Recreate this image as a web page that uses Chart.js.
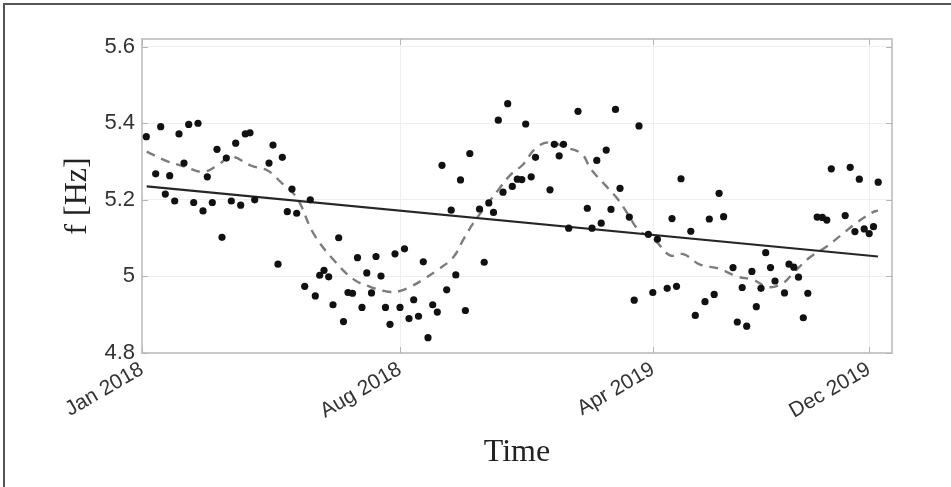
<!DOCTYPE html>
<html>
<head>
<meta charset="utf-8">
<script src="https://cdn.jsdelivr.net/npm/chart.js@4.4.1/dist/chart.umd.min.js"></script>
<style>
  body { margin: 0; background: #fff; }
  #wrap { position: relative; width: 951px; height: 487px; }
  #edge { position: absolute; left: 3px; top: 3px; width: 948px; height: 484px;
          border-top: 2px solid #555; border-left: 2px solid #555; pointer-events: none; }
</style>
</head>
<body>
<div id="wrap">
  <canvas id="freqChart" width="951" height="487"></canvas>
  <div id="edge"></div>
</div>
<script>
// time axis position of each sample (same units as the month ticks below)
const obsT = [
  4.3, 13.7, 18.7, 23.3, 27.7, 32.7, 37, 42, 46.7, 51.7,
  56, 61, 65.3, 70.3, 75, 80, 84.3, 89.3, 93.7, 98.7,
  103.3, 108, 112.7, 127, 131, 136, 140.3, 145.3, 150, 154.7,
  162.7, 168.3, 173.3, 177.7, 182, 186.7, 191, 196.7, 201.5, 206,
  210.5, 215.5, 220, 224.8, 229.5, 234, 239, 243.5, 248, 253,
  258, 262.5, 267, 271.7, 276.5, 281.3, 286, 290.7, 295.3, 300,
  304.7, 309.2, 313.8, 318.5, 323.4, 327.8, 337.5, 342.2, 346.8, 351.5,
  356.3, 361, 365.7, 370.3, 375.3, 379.8, 383.7, 389.2, 393.5, 408,
  412.3, 417.2, 421.5, 426.7, 436, 445.3, 450, 454.8, 459.2, 464.2,
  469, 473.5, 478, 487.3, 492.2, 497, 506.3, 510.8, 515.4, 525.2,
  530, 534.5, 539, 548.8, 553.3, 563, 567.3, 572.2, 577.1, 581.6,
  591, 595.3, 600.2, 604.7, 609.9, 614.3, 619, 623.7, 628.5, 633,
  642.5, 647, 651.8, 656.5, 661.3, 665.8, 675.2, 680.3, 684.8, 689.3,
  703.2, 708.2, 712.9, 717.3, 722.2, 727.2, 731.5, 736.2
];
// measured frequency in Hz
const obsF = [
  5.365, 5.268, 5.391, 5.215, 5.263, 5.197, 5.372, 5.296, 5.397, 5.193,
  5.400, 5.171, 5.260, 5.193, 5.332, 5.102, 5.309, 5.197, 5.348, 5.186,
  5.372, 5.375, 5.200, 5.296, 5.343, 5.032, 5.311, 5.169, 5.228, 5.165,
  4.974, 5.200, 4.949, 5.003, 5.016, 4.999, 4.926, 5.101, 4.882, 4.958,
  4.956, 5.049, 4.919, 5.009, 4.957, 5.052, 5.001, 4.919, 4.875, 5.059,
  4.919, 5.072, 4.890, 4.939, 4.896, 5.038, 4.840, 4.926, 4.907, 5.290,
  4.965, 5.173, 5.004, 5.252, 4.911, 5.321, 5.176, 5.037, 5.192, 5.167,
  5.408, 5.220, 5.451, 5.235, 5.254, 5.253, 5.398, 5.260, 5.311, 5.226,
  5.345, 5.315, 5.345, 5.126, 5.431, 5.178, 5.126, 5.303, 5.139, 5.330,
  5.175, 5.436, 5.230, 5.155, 4.938, 5.393, 5.110, 4.958, 5.097, 4.969,
  5.151, 4.974, 5.255, 5.118, 4.898, 4.934, 5.150, 4.953, 5.217, 5.156,
  5.023, 4.881, 4.971, 4.870, 5.013, 4.921, 4.969, 5.062, 5.023, 4.988,
  4.957, 5.032, 5.024, 4.998, 4.892, 4.956, 5.155, 5.154, 5.147, 5.281,
  5.159, 5.285, 5.117, 5.254, 5.124, 5.112, 5.130, 5.246
];

// seasonal (smoothed) curve
const smoothT = [
  4.7, 26, 42.7, 61, 76, 89, 109.3, 126, 139.3, 151, 158, 171.3, 191.3,
  211.3, 228, 246.3, 258, 270, 283, 296.3, 311.3, 321.3, 331.3,
  344.7, 356.3, 368, 381.3, 393, 406.3, 424.7, 439.7, 449, 463, 476.3,
  486.3, 496.3, 513, 528, 541.3, 558, 577.3, 594.7, 611.3, 626.3, 641.3,
  651.3, 668, 684.7, 699.7, 715, 731, 736
];
const smoothF = [
  5.326, 5.300, 5.287, 5.273, 5.291, 5.313, 5.289, 5.276, 5.245, 5.218, 5.191, 5.113, 5.044,
  4.993, 4.973, 4.960, 4.962, 4.975, 4.995, 5.018, 5.050, 5.096, 5.139,
  5.187, 5.226, 5.264, 5.293, 5.333, 5.350, 5.336, 5.320, 5.280, 5.239, 5.200,
  5.161, 5.122, 5.094, 5.055, 5.058, 5.031, 5.020, 5.000, 4.991, 4.972, 4.983,
  5.009, 5.050, 5.078, 5.109, 5.141, 5.168, 5.172
];

// linear trend
const trendT = [4.7, 736];
const trendF = [5.235, 5.052];

const tickT = [0, 258, 511, 727];
const tickLabels = ['Jan 2018', 'Aug 2018', 'Apr 2019', 'Dec 2019'];
const fTicks = [4.8, 5, 5.2, 5.4, 5.6];

const toPoints = (xs, ys) => xs.map((x, i) => ({ x: x, y: ys[i] }));

// light box around the plot with short inward ticks on all four sides
const boxFrame = {
  id: 'boxFrame',
  beforeDatasetsDraw(chart) {
    const { ctx, chartArea: a, scales } = chart;
    ctx.save();
    ctx.strokeStyle = '#c9c9c9';
    ctx.lineWidth = 2;
    ctx.strokeRect(a.left, a.top, a.right - a.left, a.bottom - a.top);
    ctx.strokeStyle = '#b5b5b5';
    ctx.lineWidth = 1;
    ctx.beginPath();
    fTicks.forEach(v => {
      const y = Math.round(scales.y.getPixelForValue(v)) + 0.5;
      ctx.moveTo(a.left, y); ctx.lineTo(a.left + 6, y);
      ctx.moveTo(a.right, y); ctx.lineTo(a.right - 6, y);
    });
    tickT.forEach(v => {
      const x = Math.round(scales.x.getPixelForValue(v)) + 0.5;
      ctx.moveTo(x, a.bottom); ctx.lineTo(x, a.bottom - 6);
      ctx.moveTo(x, a.top); ctx.lineTo(x, a.top + 6);
    });
    ctx.stroke();
    ctx.restore();
  }
};

const ctx = document.getElementById('freqChart').getContext('2d');
new Chart(ctx, {
  type: 'scatter',
  data: {
    datasets: [
      {
        label: 'f',
        data: toPoints(obsT, obsF),
        pointRadius: 3.6,
        pointBackgroundColor: '#111',
        pointBorderWidth: 0
      },
      {
        type: 'line',
        label: 'trend',
        data: toPoints(trendT, trendF),
        borderColor: '#262626',
        borderWidth: 2.2,
        pointRadius: 0
      },
      {
        type: 'line',
        label: 'seasonal',
        data: toPoints(smoothT, smoothF),
        borderColor: '#7c7c7c',
        borderWidth: 2.4,
        borderDash: [9, 7],
        tension: 0.4,
        pointRadius: 0
      }
    ]
  },
  options: {
    responsive: false,
    animation: false,
    devicePixelRatio: 1,
    layout: { padding: { top: 39, right: 59, left: 0, bottom: 0 } },
    plugins: {
      legend: { display: false },
      tooltip: { enabled: false }
    },
    scales: {
      x: {
        type: 'linear',
        min: 0,
        max: 750,
        afterFit(scale) { scale.height = 134; },
        afterBuildTicks(scale) { scale.ticks = tickT.map(v => ({ value: v })); },
        grid: { color: '#efefef', lineWidth: 1, drawTicks: false },
        border: { display: false },
        ticks: {
          autoSkip: false,
          minRotation: 30,
          maxRotation: 30,
          padding: 4,
          color: '#333',
          font: { family: 'Liberation Sans', size: 21 },
          callback: (v, i) => tickLabels[i]
        },
        title: {
          display: true,
          text: 'Time',
          color: '#222',
          font: { family: 'Liberation Serif', size: 32 },
          padding: { top: 0, bottom: 15 }
        }
      },
      y: {
        min: 4.8,
        max: 5.62,
        afterFit(scale) { scale.width = 142; },
        afterBuildTicks(scale) { scale.ticks = fTicks.map(v => ({ value: v })); },
        grid: { color: '#efefef', lineWidth: 1, drawTicks: false },
        border: { display: false },
        ticks: {
          padding: 7,
          color: '#333',
          font: { family: 'Liberation Sans', size: 22 },
          callback: v => String(+v.toFixed(1))
        },
        title: {
          display: true,
          text: 'f [Hz]',
          color: '#222',
          font: { family: 'Liberation Serif', size: 32 },
          padding: { top: 58, bottom: 0 }
        }
      }
    }
  },
  plugins: [boxFrame]
});
</script>
</body>
</html>
